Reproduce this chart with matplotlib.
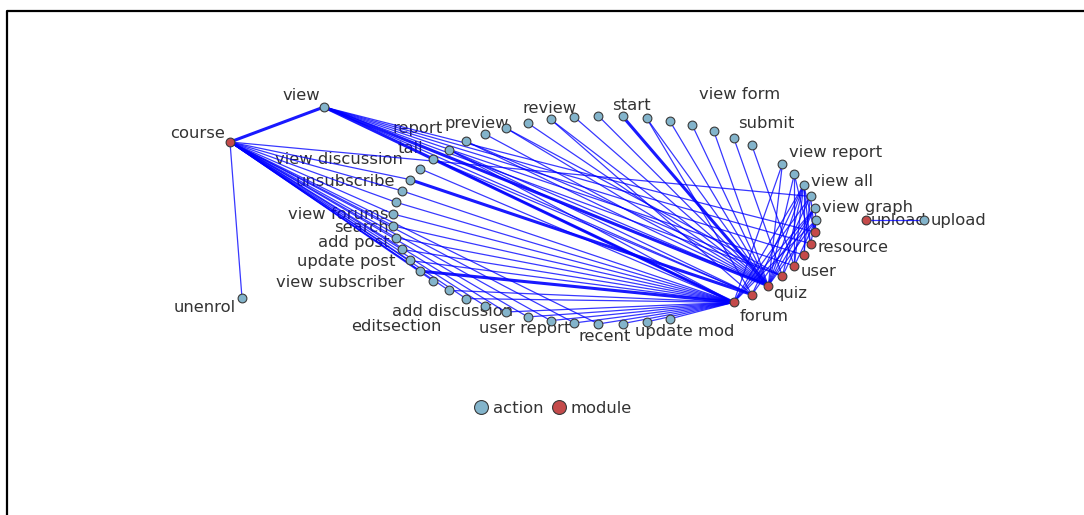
import numpy as np
import matplotlib.pyplot as plt
from matplotlib.collections import LineCollection
from matplotlib.lines import Line2D

# ring layout: 55 slots, 'a' = action, 'm' = module, '-' = empty slot
ring_kind = "aaaaaa-" + "a" * 38 + "--" + "m" * 8

ring_labels = {
    1: "view graph", 3: "view all", 5: "view report", 8: "submit", 9: "view form",
    13: "start", 16: "review", 19: "preview", 21: "report", 22: "tall",
    23: "view discussion", 24: "unsubscribe", 27: "view forums", 28: "search",
    29: "add post", 31: "update post", 32: "view subscriber", 34: "editsection",
    35: "add discussion", 38: "user report", 41: "recent", 44: "update mod",
    47: "forum", 49: "quiz", 51: "user", 53: "resource",
}

# nodes dragged off the ring
extra_names = ["course", "view", "unenrol", "upload_m", "upload_a"]
extra_labels = ["course", "view", "unenrol", "upload", "upload"]
extra_kind = ["m", "a", "a", "m", "a"]

# edges: (node, node, thick?)
edges = [("course", "view", 1), ("course", "unenrol", 0), ("course", 2, 0),
         ("upload_m", "upload_a", 0)]
edges += [("course", k, 0) for k in range(24, 42)]
edges += [("view", k, 1 if k in (47, 49) else 0) for k in range(47, 55)]
edges += [(47, k, 1 if k == 32 else 0) for k in range(21, 45) if k not in (24, 33, 36)]
edges += [(24, 48, 1), (20, 49, 0), (21, 49, 0), (21, 48, 0), (22, 48, 0), (20, 50, 0)]
edges += [(k, 49, 1 if k == 13 else 0) for k in range(9, 20)]
edges += [(7, 51, 0), (8, 50, 0), (12, 48, 0), (16, 48, 0), (18, 50, 0)]
edges += [(0, 47, 0), (0, 49, 0), (0, 51, 0), (0, 53, 0), (0, 54, 0),
          (1, 47, 0), (1, 48, 0), (1, 49, 0), (1, 50, 0), (1, 54, 0),
          (2, 47, 0), (2, 49, 0), (2, 52, 0), (2, 54, 0),
          (3, 47, 0), (3, 48, 0), (3, 49, 0), (3, 50, 0), (3, 51, 0),
          (3, 52, 0), (3, 53, 0), (3, 54, 0),
          (4, 49, 0), (4, 51, 0), (4, 53, 0), (5, 47, 0), (5, 49, 0)]

# ---- layout (pixel space) ----
cx, cy, rx, ry = 604.5, 220, 211.5, 104
theta = np.deg2rad(np.arange(len(ring_kind)) * 360 / len(ring_kind))
ring_x = cx + rx * np.cos(theta)
ring_y = cy - ry * np.sin(theta)
extra_xy = {"course": (230, 142), "view": (324, 107), "unenrol": (242, 298),
            "upload_m": (866, 220), "upload_a": (924, 220)}

def pos(n):
    if isinstance(n, str):
        return extra_xy[n]
    return (ring_x[n], ring_y[n])

label_off = {
    "view graph": (53, -1), "view all": (38, -4), "view report": (53, -11),
    "submit": (33, -14), "view form": (26, -36), "start": (9, -11),
    "review": (-1, -11), "preview": (-8, -11), "report": (-31, -21),
    "tall": (-23, -10), "view discussion": (-81, -9), "unsubscribe": (-64, 2),
    "view forums": (-55, 0), "search": (-32, 2), "add post": (-42, 5),
    "update post": (-63, 1), "view subscriber": (-80, 11), "editsection": (-52, 36),
    "add discussion": (-13, 13), "user report": (-3, 12), "recent": (6, 13),
    "update mod": (15, 13), "forum": (30, 14), "quiz": (22, 8), "user": (24, 6),
    "resource": (42, 4), "course": (-32, -8), "view": (-23, -11),
    "unenrol": (-37, 10), "upload": (32, 1),
}

c_action = "#83b4cb"
c_module = "#c44a4a"
fs = 11.8

fig = plt.figure(figsize=(10.84, 5.15), dpi=100)
ax = fig.add_axes([0, 0, 1, 1])
ax.set_xlim(0, 1084)
ax.set_ylim(515, 0)
ax.axis("off")

thin = [[pos(u), pos(v)] for u, v, w in edges if not w]
thick = [[pos(u), pos(v)] for u, v, w in edges if w]
ax.add_collection(LineCollection(thin, colors=[(0, 0, 1, 0.78)], linewidths=0.9, zorder=2))
ax.add_collection(LineCollection(thick, colors=[(0, 0, 1, 0.9)], linewidths=2.2, zorder=2))

# nodes
for k, kind in enumerate(ring_kind):
    if kind == "-":
        continue
    ax.scatter(ring_x[k], ring_y[k], s=40, color=c_action if kind == "a" else c_module,
               edgecolors="#3a3a3a", linewidths=0.8, zorder=3)
for name, kind in zip(extra_names, extra_kind):
    x, y = extra_xy[name]
    ax.scatter(x, y, s=40, color=c_action if kind == "a" else c_module,
               edgecolors="#3a3a3a", linewidths=0.8, zorder=3)

# labels
for k, txt in ring_labels.items():
    dx, dy = label_off[txt]
    ax.annotate(txt, (ring_x[k], ring_y[k]), xytext=(dx, -dy), textcoords="offset pixels",
                ha="center", va="center", fontsize=fs, color="#333333", zorder=1)
for name, txt in zip(extra_names, extra_labels):
    dx, dy = label_off[txt]
    if name == "upload_a":
        dx = 35
    ax.annotate(txt, extra_xy[name], xytext=(dx, -dy), textcoords="offset pixels",
                ha="center", va="center", fontsize=fs, color="#333333", zorder=1)

handles = [Line2D([], [], ls="", marker="o", ms=10, mfc=c_action, mec="#3a3a3a", mew=0.8),
           Line2D([], [], ls="", marker="o", ms=10, mfc=c_module, mec="#3a3a3a", mew=0.8)]
fig.legend(handles, ["action", "module"], loc="center", bbox_to_anchor=(0.5105, 0.207),
           ncol=2, frameon=False, fontsize=fs, handlelength=0.8, handletextpad=0.3,
           columnspacing=0.6, labelcolor="#333333")

# frame (top and left edges)
fig.add_artist(Line2D([7 / 1084, 7 / 1084, 1], [0, 1 - 11 / 515, 1 - 11 / 515],
                      color="black", lw=1.6))

fig.savefig("out.png", dpi=100)
